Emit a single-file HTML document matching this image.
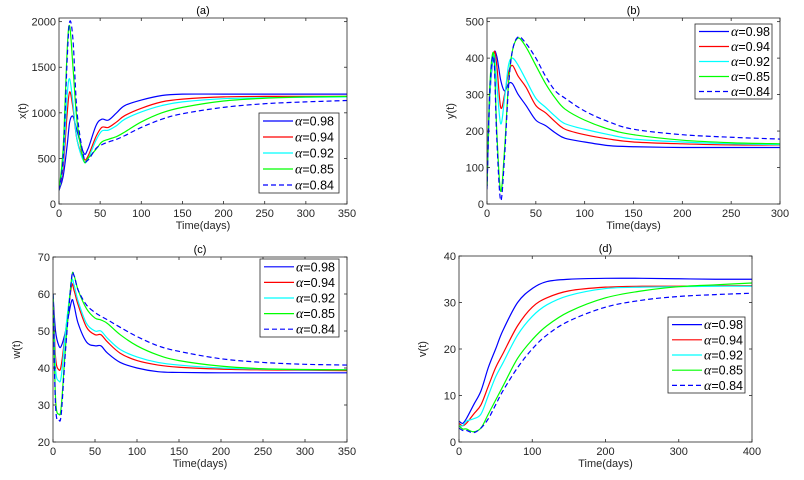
<!DOCTYPE html>
<html><head><meta charset="utf-8"><style>
html,body{margin:0;padding:0;background:#fff;}
svg{display:block;font-family:"Liberation Sans",sans-serif;}
</style></head><body>
<svg id="fig" width="804" height="480"></svg>
<script>
// ---- data ----
const seriesLabels=["0.98","0.94","0.92","0.85","0.84"];
const aTimes=[0,5,10,13,17,22,30,35,45,52,60,70,80,100,125,150,200,250,300,350];
const aS098=[150,300,650,900,960,800,560,600,860,930,920,1000,1080,1140,1190,1205,1205,1205,1205,1205];
const aS094=[150,400,1000,1230,1050,700,500,520,740,840,840,900,970,1050,1120,1150,1175,1180,1180,1180];
const aS092=[150,450,1200,1370,1100,700,470,490,700,800,810,860,930,1010,1080,1120,1155,1165,1170,1175];
const aS085=[150,600,1700,1950,1500,900,480,500,600,680,710,740,790,900,1000,1060,1130,1160,1175,1180];
const aS084=[150,500,1600,2000,1800,1000,520,480,610,650,680,710,750,840,930,990,1060,1100,1120,1135];
const bTimes=[0,3,7,10,14,18,22,26,32,40,50,60,70,80,100,125,150,200,250,300];
const bS098=[50,300,410,405,340,310,330,330,300,270,230,215,195,180,170,160,157,155,155,155];
const bS094=[50,300,415,380,265,300,360,380,350,320,270,250,225,205,190,178,170,165,162,162];
const bS092=[50,300,410,330,220,290,380,400,380,340,290,265,240,220,205,190,178,170,165,163];
const bS085=[50,330,410,200,35,150,330,420,455,430,380,330,290,260,230,205,190,175,168,165];
const bS084=[40,320,400,180,10,130,320,420,458,440,400,350,310,290,255,225,205,190,183,178];
const cTimes=[0,3,7,10,15,22,25,30,40,50,57,65,80,100,125,150,200,250,300,350];
const cS098=[60,50,46,46,50,58,57,52,47,46,46,44,41.5,40,39,38.8,38.7,38.7,38.7,38.7];
const cS094=[60,43,39.5,41,50,62,61,57,51,49,49,47,44,42,40.8,40.2,39.7,39.5,39.4,39.3];
const cS092=[60,40,36.5,38,50,63,62.5,58,52,50,50,48,45,43,41.5,40.8,40,39.7,39.5,39.5];
const cS085=[60,32,27.5,30,46,64,65,61,56,53.5,53,52,49,46,43.5,42,40.5,39.8,39.6,39.5];
const cS084=[60,30,26,28,45,64,65,61,57,55,54,53,51,48.5,46,44.5,42.5,41.5,41,40.8];
const dTimes=[0,5,10,20,30,40,50,60,80,100,120,150,200,250,300,350,400];
const dS098=[4.5,4,5,8,11,16,20,24,30,33,34.5,35,35.2,35.2,35.1,35,35];
const dS094=[4,3.5,4,6,8,12,16,19,25,29,31,32.5,33.3,33.5,33.5,33.6,33.6];
const dS092=[3.5,3.5,4.5,5,6,10,14,17,23,27,29.5,31.5,33,33.3,33.4,33.5,33.5];
const dS085=[3.5,2.8,2.8,2.2,3,6,9,12,18,22,25,28,31,32.5,33.4,33.8,34.2];
const dS084=[3,2.5,2.5,2,3,5,8,11,16,20,23,26,29,30.5,31.3,31.7,32];
const aXTicks=[0,50,100,150,200,250,300,350], aYTicks=[0,500,1000,1500,2000];
const bXTicks=[0,50,100,150,200,250,300], bYTicks=[0,100,200,300,400,500];
const cXTicks=[0,50,100,150,200,250,300,350], cYTicks=[20,30,40,50,60,70];
const dXTicks=[0,100,200,300,400], dYTicks=[0,10,20,30,40];

// ---- layout ----
const colors=["#0000ff","#ff0000","#00ffff","#00ff00","#0000ff"];
const panels=[
 {id:"a",title:"(a)",yl:"x(t)",L:59,R:347,T:18,B:204,x0:0,x1:350,y0:0,y1:2040,t:aTimes,s:[aS098,aS094,aS092,aS085,aS084],xt:aXTicks,yt:aYTicks,lg:[259,113,80,80]},
 {id:"b",title:"(b)",yl:"y(t)",L:487,R:780,T:18,B:204,x0:0,x1:300,y0:0,y1:510,t:bTimes,s:[bS098,bS094,bS092,bS085,bS084],xt:bXTicks,yt:bYTicks,lg:[695,24,77,75]},
 {id:"c",title:"(c)",yl:"w(t)",L:53,R:347,T:257,B:442,x0:0,x1:350,y0:20,y1:70,t:cTimes,s:[cS098,cS094,cS092,cS085,cS084],xt:cXTicks,yt:cYTicks,lg:[260,259,79,78]},
 {id:"d",title:"(d)",yl:"v(t)",L:459,R:752,T:256,B:442,x0:0,x1:400,y0:0,y1:40,t:dTimes,s:[dS098,dS094,dS092,dS085,dS084],xt:dXTicks,yt:dYTicks,lg:[668,317,77,76]}
];
const NS="http://www.w3.org/2000/svg";
const svg=document.getElementById("fig");
function mk(tag,attrs,parent){const e=document.createElementNS(NS,tag);for(const k in attrs)e.setAttribute(k,attrs[k]);(parent||svg).appendChild(e);return e;}
function smooth(pts){let d="M"+pts[0][0].toFixed(2)+","+pts[0][1].toFixed(2);
 for(let i=0;i<pts.length-1;i++){const p0=pts[Math.max(0,i-1)],p1=pts[i],p2=pts[i+1],p3=pts[Math.min(pts.length-1,i+2)];
  const c1=[p1[0]+(p2[0]-p0[0])/6,p1[1]+(p2[1]-p0[1])/6],c2=[p2[0]-(p3[0]-p1[0])/6,p2[1]-(p3[1]-p1[1])/6];
  d+="C"+c1[0].toFixed(2)+","+c1[1].toFixed(2)+" "+c2[0].toFixed(2)+","+c2[1].toFixed(2)+" "+p2[0].toFixed(2)+","+p2[1].toFixed(2);}
 return d;}
panels.forEach(p=>{
 const g=mk("g",{});
 
 
 const sx=v=>p.L+(v-p.x0)/(p.x1-p.x0)*(p.R-p.L);
 const sy=v=>p.B-(v-p.y0)/(p.y1-p.y0)*(p.B-p.T);
 const clipId="clip"+p.id;
 const cp=mk("clipPath",{id:clipId},g);mk("rect",{x:p.L,y:p.T,width:p.R-p.L,height:p.B-p.T},cp);
 // series
 p.s.forEach((vals,k)=>{
  const pts=p.t.map((t,i)=>[sx(t),sy(vals[i])]);
  const path=mk("path",{d:smooth(pts),fill:"none",stroke:colors[k],"stroke-width":1.2,"clip-path":"url(#"+clipId+")"},g);
  if(k===4)path.setAttribute("stroke-dasharray","5,3");
  
  
 });
 // box
 const box=mk("rect",{x:p.L,y:p.T,width:p.R-p.L,height:p.B-p.T,fill:"none",stroke:"#262626","stroke-width":0.8},g);
 
 
 // ticks
 p.xt.forEach(v=>{const x=sx(v);
  mk("line",{x1:x,x2:x,y1:p.B,y2:p.B-3,stroke:"#262626","stroke-width":0.8},g);
  mk("line",{x1:x,x2:x,y1:p.T,y2:p.T+3,stroke:"#262626","stroke-width":0.8},g);
  const t=mk("text",{x:x,y:p.B+13,"font-size":11,"text-anchor":"middle",fill:"#262626"},g);t.textContent=v;
  
  });
 p.yt.forEach(v=>{const y=sy(v);
  mk("line",{x1:p.L,x2:p.L+3,y1:y,y2:y,stroke:"#262626","stroke-width":0.8},g);
  mk("line",{x1:p.R,x2:p.R-3,y1:y,y2:y,stroke:"#262626","stroke-width":0.8},g);
  const t=mk("text",{x:p.L-3,y:y+4,"font-size":11,"text-anchor":"end",fill:"#262626"},g);t.textContent=v;
  
  });
 // labels
 const tt=mk("text",{x:(p.L+p.R)/2,y:p.T-4,"font-size":11,"text-anchor":"middle",fill:"#000"},g);tt.textContent=p.title;
 
 
 const xl=mk("text",{x:(p.L+p.R)/2,y:p.B+25,"font-size":11,"text-anchor":"middle",fill:"#262626"},g);xl.textContent="Time(days)";
 
 
 const yx=p.L-33,yy=(p.T+p.B)/2;
 const yl=mk("text",{x:yx,y:yy,"font-size":11,"text-anchor":"middle",fill:"#262626",transform:"rotate(-90 "+yx+" "+yy+")"},g);yl.textContent=p.yl;
 
 
 // legend
 const [lx,ly,lw,lh]=p.lg;
 const lgG=mk("g",{},g);
 
 
 mk("rect",{x:lx,y:ly,width:lw,height:lh,fill:"#fff",stroke:"#262626","stroke-width":0.8},lgG);
 const rh=lh/5;
 seriesLabels.forEach((lab,k)=>{
  const cy=ly+rh*(k+0.5);
  const e=mk("g",{},lgG);
  
  
  const ln=mk("line",{x1:lx+4,x2:lx+34,y1:cy,y2:cy,stroke:colors[k],"stroke-width":1.2},e);
  if(k===4)ln.setAttribute("stroke-dasharray","5,3");
  const t=mk("text",{x:lx+36,y:cy+4.5,"font-size":12.5,fill:"#000"},e);
  const a=mk("tspan",{"font-family":"Liberation Serif,serif","font-style":"italic","font-size":14},t);a.textContent="α";
  const r=mk("tspan",{},t);r.textContent="="+lab;
 });
});
</script>
</body></html>
